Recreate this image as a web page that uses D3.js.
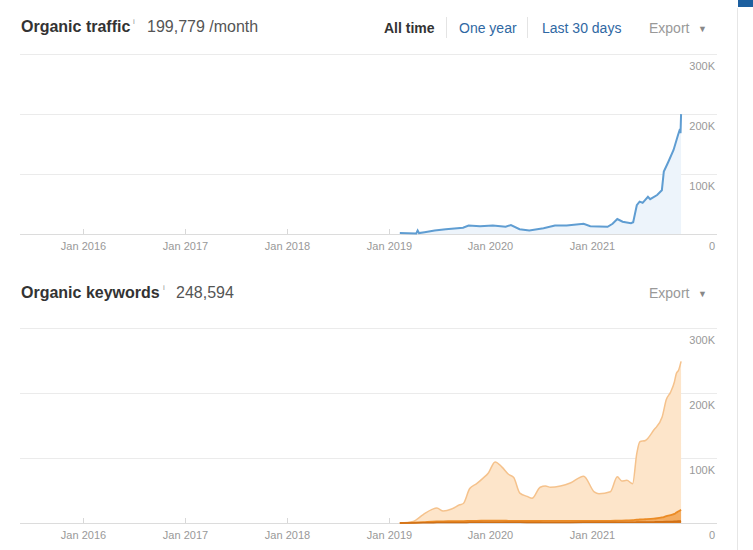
<!DOCTYPE html>
<html lang="en">
  <head>
    <meta charset="utf-8">
    <title>Organic traffic / keywords</title>
    <script src="https://d3js.org/d3.v7.min.js"></script>
    <style>
      body { margin: 0; background: #fff; }
      text { font-family: Arial, "Liberation Sans", sans-serif; }
    </style>
  </head>

  <body>

  <script>

// data

  var years = [2016, 2017, 2018, 2019, 2020, 2021];
  var yTicks = [0, 100000, 200000, 300000];
  var yTickLabels = ["0", "100K", "200K", "300K"];

  var trafficDates = ["2019-02-10", "2019-04-10", "2019-04-15", "2019-04-20", "2019-05-10",
    "2019-06-15", "2019-07-25", "2019-09-25", "2019-10-15", "2019-11-25", "2020-01-10",
    "2020-02-25", "2020-03-15", "2020-04-15", "2020-05-20", "2020-07-10", "2020-08-20",
    "2020-10-01", "2020-12-01", "2020-12-25", "2021-02-25", "2021-03-15", "2021-04-01",
    "2021-04-20", "2021-05-20", "2021-05-28", "2021-06-10", "2021-06-20", "2021-07-01",
    "2021-07-20", "2021-07-28", "2021-08-22", "2021-09-08", "2021-09-15", "2021-10-01",
    "2021-10-20", "2021-11-05", "2021-11-12", "2021-11-14", "2021-11-16"];
  var trafficValues = [1500, 1000, 6000, 1500, 3000,
    6000, 8000, 10500, 14000, 13000, 14000,
    12000, 15000, 8000, 6000, 9500, 14000,
    14000, 17000, 13000, 12000, 17000, 25000,
    20500, 18000, 19500, 48000, 54000, 52000,
    62000, 58000, 65000, 73000, 104000, 120000,
    140000, 165000, 175000, 168000, 199779];

  var kwDates = ["2019-02-10", "2019-03-30", "2019-05-05", "2019-06-06", "2019-06-23",
    "2019-07-16", "2019-08-15", "2019-09-13", "2019-09-26", "2019-10-19", "2019-11-13",
    "2019-12-06", "2019-12-25", "2020-01-18", "2020-02-12", "2020-03-06", "2020-03-25",
    "2020-04-16", "2020-05-12", "2020-05-30", "2020-06-28", "2020-07-17", "2020-08-04",
    "2020-09-09", "2020-10-14", "2020-12-01", "2021-01-08", "2021-01-25", "2021-03-07",
    "2021-04-01", "2021-04-17", "2021-05-05", "2021-05-26", "2021-06-10", "2021-06-21",
    "2021-07-11", "2021-08-10", "2021-09-09", "2021-09-24", "2021-10-09", "2021-10-23",
    "2021-10-30", "2021-11-07", "2021-11-16"];
  var kwAll = [0, 2500, 13000, 21000, 23000,
    18500, 21500, 28000, 30000, 53000, 60500,
    69000, 77000, 94000, 86000, 75000, 70000,
    46000, 41000, 38000, 55000, 57000, 55000,
    57000, 61500, 72000, 48000, 45000, 48000,
    71000, 64600, 65600, 60500, 107000, 125000,
    127000, 143000, 163000, 190000, 201000, 217000,
    230000, 235000, 248594];
  var kwTop10 = [0, 500, 1200, 2000, 2300,
    2500, 2800, 3000, 3000, 3200, 3400,
    3500, 3600, 3600, 3500, 3400, 3300,
    3200, 3100, 3100, 3100, 3200, 3200,
    3200, 3300, 3300, 3200, 3200, 3300,
    3600, 3800, 4000, 4200, 5000, 5400,
    5800, 6700, 8500, 10500, 12000, 14000,
    16000, 18000, 20500];
  var kwTop3 = [0, 100, 300, 500, 600,
    700, 800, 900, 900, 1000, 1000,
    1000, 1000, 1100, 1000, 1000, 1000,
    1000, 900, 900, 900, 900, 900,
    900, 900, 1000, 1000, 1000, 1000,
    1100, 1100, 1200, 1200, 1400, 1500,
    1500, 1700, 2000, 2200, 2400, 2600,
    2700, 2900, 3200];

// page

  var w = 753;
  var h = 550;

  var svg = d3.select("body")
    .append("svg")
      .attr("width", w)
      .attr("height", h);

  var parse = d3.timeParse("%Y-%m-%d");

  var xScale = d3.scaleTime()
    .domain([parse("2015-05-18"), parse("2022-03-25")])
    .range([20, 717]);

  var traffic = trafficDates.map((d, i) => ({ date: parse(d), value: trafficValues[i] }));
  var keywords = kwDates.map((d, i) => ({ date: parse(d), all: kwAll[i], top10: kwTop10[i], top3: kwTop3[i] }));

  // right side frame
  svg.append("line")
    .attr("x1", 737.5).attr("x2", 737.5)
    .attr("y1", 8).attr("y2", h)
    .attr("stroke", "#e6e6e6");
  svg.append("rect")
    .attr("x", 738).attr("y", 0)
    .attr("width", 15).attr("height", 7)
    .attr("fill", "#1d5f9f");

  function drawFrame(y, top, bottom) {
    var g = svg.append("g");

    yTicks.forEach(function (t, i) {
      g.append("line")
        .attr("x1", 20).attr("x2", 717)
        .attr("y1", Math.round(y(t)) + 0.5).attr("y2", Math.round(y(t)) + 0.5)
        .attr("stroke", i == 0 ? "#dcdcdc" : "#ebebeb");
      g.append("text")
        .attr("x", 715)
        .attr("y", y(t) + 16)
        .attr("text-anchor", "end")
        .attr("font-size", 11)
        .attr("fill", "#999")
        .text(yTickLabels[i]);
    });

    years.forEach(function (yr) {
      var x = Math.round(xScale(new Date(yr, 0, 1))) + 0.5;
      g.append("line")
        .attr("x1", x).attr("x2", x)
        .attr("y1", bottom - 5).attr("y2", bottom)
        .attr("stroke", "#d8d8d8");
      g.append("text")
        .attr("x", x)
        .attr("y", bottom + 16)
        .attr("text-anchor", "middle")
        .attr("font-size", 11)
        .attr("fill", "#999")
        .text("Jan " + yr);
    });
  }

  function drawExport(y) {
    svg.append("text")
      .attr("x", 649).attr("y", y)
      .attr("font-size", 14)
      .attr("fill", "#999")
      .text("Export");
    svg.append("text")
      .attr("x", 698).attr("y", y - 1)
      .attr("font-size", 9)
      .attr("fill", "#888")
      .text("\u25BC");
  }

// Organic traffic

  var y1 = d3.scaleLinear().domain([0, 300000]).range([234, 54]);

  svg.append("text")
    .attr("x", 21).attr("y", 32)
    .attr("font-size", 16).attr("font-weight", "bold")
    .attr("fill", "#333")
    .text("Organic traffic");
  svg.append("text")
    .attr("x", 133).attr("y", 24)
    .attr("font-size", 8).attr("fill", "#999")
    .text("i");
  svg.append("text")
    .attr("x", 147).attr("y", 32)
    .attr("font-size", 16).attr("fill", "#555")
    .text("199,779 /month");

  svg.append("text")
    .attr("x", 384).attr("y", 33)
    .attr("font-size", 14).attr("font-weight", "bold")
    .attr("fill", "#333")
    .text("All time");
  svg.append("text")
    .attr("x", 459).attr("y", 33)
    .attr("font-size", 14).attr("fill", "#2f68a3")
    .text("One year");
  svg.append("text")
    .attr("x", 542).attr("y", 33)
    .attr("font-size", 14).attr("fill", "#2f68a3")
    .text("Last 30 days");
  [446.5, 527.5].forEach(function (x) {
    svg.append("line")
      .attr("x1", x).attr("x2", x)
      .attr("y1", 17).attr("y2", 38)
      .attr("stroke", "#e4e4e4");
  });
  drawExport(33);

  drawFrame(y1, 54, 234);

  svg.append("path")
    .datum(traffic)
    .attr("fill", "#edf4fb")
    .attr("d", d3.area().x(d => xScale(d.date)).y0(y1(0)).y1(d => y1(d.value)));

  svg.append("path")
    .datum(traffic)
    .attr("fill", "none")
    .attr("stroke", "#5f9dd2")
    .attr("stroke-width", 2)
    .attr("d", d3.line().x(d => xScale(d.date)).y(d => y1(d.value)));

// Organic keywords

  var y2 = d3.scaleLinear().domain([0, 300000]).range([523, 328]);

  svg.append("text")
    .attr("x", 21).attr("y", 298)
    .attr("font-size", 16).attr("font-weight", "bold")
    .attr("fill", "#333")
    .text("Organic keywords");
  svg.append("text")
    .attr("x", 163).attr("y", 290)
    .attr("font-size", 8).attr("fill", "#999")
    .text("i");
  svg.append("text")
    .attr("x", 176).attr("y", 298)
    .attr("font-size", 16).attr("fill", "#555")
    .text("248,594");
  drawExport(298);

  drawFrame(y2, 328, 523);

  var layers = [
    { key: "all", fill: "#fde5ca", stroke: "#f5c28c", sw: 1.5 },
    { key: "top10", fill: "#f4ad62", stroke: "#eb8b25", sw: 1.8 },
    { key: "top3", fill: "#d8771c", stroke: "#d06f14", sw: 1.5 }
  ];

  layers.forEach(function (l) {
    svg.append("path")
      .datum(keywords)
      .attr("fill", l.fill)
      .attr("d", d3.area().curve(d3.curveMonotoneX)
        .x(d => xScale(d.date)).y0(y2(0)).y1(d => y2(d[l.key])));
    svg.append("path")
      .datum(keywords)
      .attr("fill", "none")
      .attr("stroke", l.stroke)
      .attr("stroke-width", l.sw)
      .attr("d", d3.line().curve(d3.curveMonotoneX)
        .x(d => xScale(d.date)).y(d => y2(d[l.key])));
  });

  </script>

  </body>

</html>
